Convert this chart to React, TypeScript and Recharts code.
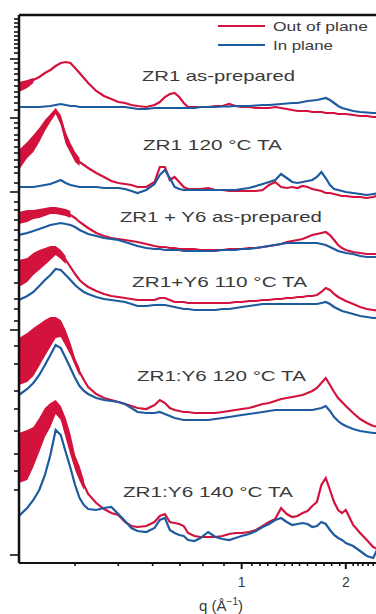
import React from "react";
import { ComposedChart, Line, Area, XAxis, YAxis, ReferenceDot, ReferenceLine } from "recharts";

// q grid (Å^-1), shared by every profile
const q = [
  0.227, 0.24, 0.25, 0.26, 0.27, 0.28, 0.29, 0.3, 0.31, 0.32, 0.33, 0.34, 0.35, 0.36,
  0.38, 0.4, 0.42, 0.44, 0.46, 0.48, 0.5, 0.53, 0.56, 0.58, 0.6, 0.62, 0.64, 0.66, 0.68, 0.7,
  0.73, 0.76, 0.8, 0.84, 0.88, 0.92, 0.96, 1.0, 1.05, 1.1, 1.15, 1.2, 1.25, 1.3, 1.35, 1.4,
  1.45, 1.5, 1.55, 1.6, 1.65, 1.7, 1.75, 1.8, 1.85, 1.9, 1.95, 2.0, 2.1, 2.2, 2.3, 2.4, 2.5,
];

// offset intensities (a.u.), out of plane / in plane
const zr1AsPrepOut = [478,480,483,486,490,493,497,500,501,500,495,490,485,480,472,467,464,461,460,458,457,456,458,461,466,469,470,466,460,456,456,456,456,457,457,459,457,456,456,455,455,455,456,455,454,453,452,452,452,451,451,451,450,450,450,449,449,449,448,447,447,446,446];
const zr1AsPrepIn = [456,456,456,456,456.5,457,458,459,458,457,457,456,456,456,456,456,456,456,456,455,454,454,455,455,455,455,455,455,455,455,455,456,456,456,456.5,456.5,457,457,457,457.5,458,458,458.5,459,459.5,460,460,461,462,462.5,463,464,465,463,460,457,455,454,452,451,450.5,450,450];
const zr1AnnealOut = [403,413,420,428,438,445,452,443,425,415,406,401,398,395,390,386,382,380,379,378,376,376,381,396,396,383,386,381,376,374,374,374,375,373,373,372,372,372,372,372,373,378,381,376,375,376,375,377,376,374,373,372,370,370,369,368,367,367,366,366,365,366,368];
const zr1AnnealIn = [376,376,376,377,378,379,381,383,380,378,377,376,376,376,376,375,375,375,374,372,370,373,379,388,393,385,376,374,373,373,373,373,373,373,373,373,373,374,375,377,379,381,383,389,385,381,380,381,382,383,386,391,385,378,374,373,372,371,370,369,368,369,370];
const blendAsPrepOut = [345,348,349,350,351,353,352,351,350,348,345,341,338,335,330,327,325,324,323,322,321,319,317,316,316,315,315,314,314,314,314,313,313,313,313,314,314,314,315,315,316,317,318,319,321,322,323,324,326,328,329,330,331,328,323,318,315,313,311,310,309,309,309];
const blendAsPrepIn = [328,330,332,334,336,338,339,340,339,338,336,333,331,329,327,325,324,323,321,319,317,315,314,314,313,313,313,313,312,312,312,312,312,312,313,313,313,314,314,315,316,317,318,319,320,320,320,320,320,320,320,319,318,316,314,312,311,310,309,307,306,306,306];
const blend110Out = [290,293,299,303,307,310,312,309,303,296,289,283,279,276,272,269,267,266,265,264,263,263,263,265,265,263,261,261,261,260,260,260,260,260,260,260,261,261,262,262,263,263,264,264,265,265,266,266,267,267,268,271,275,273,269,266,264,262,259,256,254,253,252];
const blend110In = [263,267,271,277,283,288,294,293,288,283,278,274,271,269,266,264,263,262,261,259,257,257,258,258,258,257,256,255,254,254,253,253,253,253,254,254,255,256,257,258,259,259,259,259,259,259,259,259,259,259,259,260,261,259,256,254,252,251,249,247,246,245,245];
const blend120Out = [201,205,211,218,225,231,236,235,225,214,201,191,183,176,169,165,163,161,159,157,155,154,158,163,160,155,153,152,151,151,150,150,150,150,151,152,153,154,155,157,159,160,162,164,165,166,167,168,170,172,175,180,185,178,171,165,161,157,150,144,140,137,136];
const blend120In = [168,174,180,188,198,208,218,215,205,195,185,177,172,169,165,163,162,161,159,155,151,150,150,151,149,147,145,144,143,143,143,143,143,144,145,146,147,148,149,150,151,152,153,153,153,153,153,153,153,153,154,155,157,152,146,142,139,137,134,132,131,130,130];
const blend140Out = [105,108,116,128,140,148,156,150,135,119,101,90,78,69,60,54,50,48,41,37,36,37,41,47,49,41,40,39,37,30,27,26,26,26,27,29,30,30,31,33,37,41,44,55,49,46,47,50,52,57,61,78,85,73,61,53,50,53,38,30,23,16,13];
const blend140In = [47,55,63,73,88,108,133,128,111,95,78,65,58,54,53,55,56,49,42,35,32,31,35,43,45,33,30,28,27,23,22,25,31,26,24,23,25,27,29,32,36,39,43,45,41,38,39,40,39,36,37,41,39,33,28,25,23,20,17,12,7,5,18];

// noise envelope of the out-of-plane signal at low q [min, max]
const zr1AsPrepNoise = [[471,481],[475,483],[480,485]];
const zr1AnnealNoise = [[393,413],[405,421],[411,428],[421,435],[432,443],[441,449],[449,455],[438,448],[419,431],[410,420],[401,411],[397,405]];
const blendAsPrepNoise = [[339,351],[341,353],[344,353],[345,354],[347,355],[349,356],[349,356],[348,355],[347,354],[345,352]];
const blend110Noise = [[276,303],[281,305],[288,310],[293,313],[298,315],[303,317],[308,317],[304,313],[299,307]];
const blend120Noise = [[178,225],[181,230],[187,235],[197,239],[207,243],[216,246],[225,246],[226,243],[217,233],[208,220],[197,205],[187,195]];
const blend140Noise = [[80,130],[83,133],[96,136],[111,145],[126,155],[136,160],[149,163],[143,157],[125,145],[108,129],[93,108],[82,97],[73,83]];

const panelNames = ["ZR1 as-prepared", "ZR1 120 °C TA", "ZR1 + Y6 as-prepared", "ZR1+Y6 110 °C TA", "ZR1:Y6 120 °C TA", "ZR1:Y6 140 °C TA"];
const labelQ = [0.857, 0.823, 0.871, 0.863, 0.874, 0.799];
const labelLevel = [488, 419, 347, 282, 188, 72];

const xMajorTicks = [1, 2];
const xMinorTicks = [0.33, 0.44, 0.553, 0.663, 0.773, 0.889, 1.07, 1.13, 1.19, 1.26, 1.33, 1.4, 1.47, 1.55, 1.64, 1.73, 1.82, 1.92, 2.1, 2.17, 2.24, 2.32, 2.4];
const yMajorTicks = [8, 233, 371, 445, 504];
const yMinorTicks = [73, 92, 109, 132, 154, 172, 199, 217, 242, 254, 264, 280, 293, 303, 313, 323, 333, 343, 353, 361, 380, 390, 396, 403, 410, 416, 423, 428, 435, 440, 453, 460, 466, 471, 477, 483, 489, 494, 500, 510, 515, 519, 523, 527, 531, 536, 540, 544];

const qDomain = [0.2272, 2.596];
const yDomain = [0, 548];

const panels = [
  { out: zr1AsPrepOut, inp: zr1AsPrepIn, noise: zr1AsPrepNoise },
  { out: zr1AnnealOut, inp: zr1AnnealIn, noise: zr1AnnealNoise },
  { out: blendAsPrepOut, inp: blendAsPrepIn, noise: blendAsPrepNoise },
  { out: blend110Out, inp: blend110In, noise: blend110Noise },
  { out: blend120Out, inp: blend120In, noise: blend120Noise },
  { out: blend140Out, inp: blend140In, noise: blend140Noise },
];

const data = q.map((qq, i) => {
  const row: Record<string, any> = { q: qq };
  panels.forEach((p, k) => {
    row[`o${k}`] = p.out[i];
    row[`i${k}`] = p.inp[i];
    row[`n${k}`] = p.noise[i] ?? null;
  });
  return row;
});

const RED = "#d3123d";
const BLUE = "#1d5a9e";
const INK = "#111";
const TEXT = "#3a3a3a";
const FONT = "'Liberation Sans', Arial, sans-serif";
const labelTextLength = [153, 139, 202, 175, 169, 170];

function YTick({ x, y, payload }: any) {
  const len = yMajorTicks.includes(payload.value) ? 9 : 5;
  return <line x1={x - len} x2={x} y1={y} y2={y} stroke={INK} strokeWidth={1.6} />;
}

function XTick({ x, y, payload }: any) {
  const major = xMajorTicks.includes(payload.value);
  return (
    <g>
      <line x1={x} x2={x} y1={y} y2={y + (major ? 6 : 3)} stroke={INK} strokeWidth={major ? 2 : 1.6} />
      {major && (
        <text x={x} y={y + 24} textAnchor="middle" fontSize={14} fill={TEXT} fontFamily={FONT}>
          {payload.value}
        </text>
      )}
    </g>
  );
}

function PanelLabel({ viewBox, text, len }: any) {
  return (
    <text
      x={viewBox.x}
      y={viewBox.y}
      textAnchor="middle"
      dominantBaseline="central"
      fontSize={15}
      fill={TEXT}
      fontFamily={FONT}
      textLength={len}
      lengthAdjust="spacingAndGlyphs"
    >
      {text}
    </text>
  );
}

function QLabel() {
  return (
    <text x={221} y={611} textAnchor="middle" fontSize={15} fill={TEXT} fontFamily={FONT}>
      q (Å
      <tspan fontSize={10} dy={-6}>−1</tspan>
      <tspan dy={6}>)</tspan>
    </text>
  );
}

function LegendBox() {
  const items = [
    { name: "Out of plane", color: RED, len: 95 },
    { name: "In plane", color: BLUE, len: 60 },
  ];
  return (
    <svg width={170} height={40} style={{ position: "absolute", left: 210, top: 16 }}>
      {items.map((it, k) => (
        <g key={it.name}>
          <line x1={8} x2={55} y1={10 + k * 19} y2={10 + k * 19} stroke={it.color} strokeWidth={2.2} />
          <text
            x={63}
            y={10 + k * 19}
            dominantBaseline="central"
            fontSize={13}
            fill={TEXT}
            fontFamily={FONT}
            textLength={it.len}
            lengthAdjust="spacingAndGlyphs"
          >
            {it.name}
          </text>
        </g>
      ))}
    </svg>
  );
}

export default function App() {
  return (
    <div style={{ position: "fixed", left: 0, top: 0, width: 376, height: 614, overflow: "hidden", background: "#fff" }}>
      <ComposedChart width={390} height={614} data={data} margin={{ top: 15, right: 5, bottom: 0, left: 0 }}>
        <XAxis
          dataKey="q"
          type="number"
          scale="log"
          domain={qDomain}
          allowDataOverflow
          ticks={[...xMinorTicks, ...xMajorTicks]}
          interval={0}
          tick={<XTick />}
          tickLine={false}
          tickSize={0}
          tickMargin={0}
          height={51}
          axisLine={{ stroke: INK, strokeWidth: 2 }}
          label={<QLabel />}
        />
        <YAxis
          type="number"
          domain={yDomain}
          allowDataOverflow
          ticks={[...yMinorTicks, ...yMajorTicks]}
          interval={0}
          tick={<YTick />}
          tickLine={false}
          tickSize={0}
          tickMargin={0}
          width={19}
          axisLine={{ stroke: INK, strokeWidth: 2.5 }}
        />
        {panels.map((_, k) => (
          <Area
            key={`n${k}`}
            dataKey={`n${k}`}
            stroke="none"
            fill={RED}
            fillOpacity={1}
            isAnimationActive={false}
            connectNulls={false}
            dot={false}
            activeDot={false}
          />
        ))}
        {panels.map((_, k) => (
          <Line
            key={`o${k}`}
            dataKey={`o${k}`}
            type="linear"
            stroke={RED}
            strokeWidth={2.2}
            dot={false}
            isAnimationActive={false}
          />
        ))}
        {panels.map((_, k) => (
          <Line
            key={`i${k}`}
            dataKey={`i${k}`}
            type="linear"
            stroke={BLUE}
            strokeWidth={2.2}
            dot={false}
            isAnimationActive={false}
          />
        ))}
        <ReferenceLine y={yDomain[1]} stroke={INK} strokeWidth={2.5} ifOverflow="visible" />
        {panelNames.map((name, k) => (
          <ReferenceDot
            key={name}
            x={labelQ[k]}
            y={labelLevel[k]}
            r={0}
            fill="none"
            stroke="none"
            ifOverflow="visible"
            label={(p: any) => <PanelLabel {...p} text={name} len={labelTextLength[k]} />}
          />
        ))}
      </ComposedChart>
      <LegendBox />
    </div>
  );
}
